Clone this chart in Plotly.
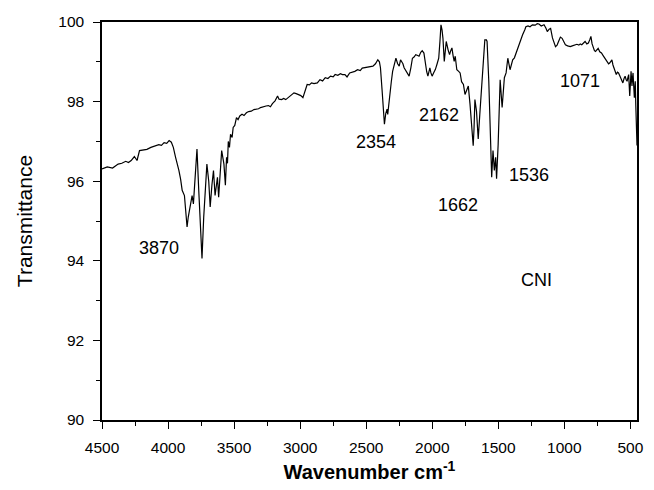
import plotly.graph_objects as go

# FTIR spectrum of CNI: wavenumber (cm^-1) vs. transmittance (%)
wavenumber = [
    4500, 4460, 4420, 4378, 4350, 4320, 4300, 4279, 4255, 4235, 4216, 4190, 4160, 4130,
    4100, 4070, 4050, 4030, 4010, 3992, 3975, 3960, 3943, 3930, 3918, 3905, 3893, 3876,
    3866, 3856, 3847, 3838, 3828, 3818, 3808, 3795, 3781, 3768, 3755, 3743, 3730, 3716,
    3706, 3692, 3681, 3668, 3656, 3644, 3635, 3626, 3617, 3605, 3594, 3577, 3566, 3557,
    3550, 3544, 3535, 3527, 3515, 3507, 3495, 3482, 3470, 3457, 3440, 3425, 3407, 3390,
    3370, 3350, 3333, 3315, 3300, 3280, 3258, 3240, 3225, 3210, 3190, 3171, 3160, 3140,
    3125, 3109, 3090, 3070, 3047, 3030, 3009, 2995, 2979, 2960, 2947, 2930, 2914, 2895,
    2870, 2850, 2830, 2810, 2790, 2770, 2750, 2735, 2715, 2695, 2680, 2661, 2645, 2625,
    2605, 2586, 2565, 2545, 2530, 2511, 2490, 2470, 2449, 2430, 2412, 2400, 2392, 2380,
    2370, 2362, 2352, 2342, 2337, 2325, 2310, 2300, 2285, 2275, 2262, 2250, 2240, 2233,
    2222, 2213, 2195, 2175, 2162, 2150, 2138, 2125, 2110, 2100, 2087, 2076, 2063, 2056,
    2050, 2042, 2033, 2025, 2018, 2010, 2001, 1990, 1976, 1963, 1951, 1942, 1934, 1926,
    1919, 1909, 1894, 1880, 1869, 1860, 1851, 1842, 1834, 1826, 1814, 1800, 1789, 1778,
    1764, 1752, 1739, 1727, 1714, 1702, 1690, 1684, 1677, 1665, 1652, 1640, 1628, 1615,
    1602, 1590, 1585, 1572, 1560, 1550, 1540, 1530, 1520, 1513, 1501, 1486, 1471, 1462,
    1454, 1441, 1428, 1411, 1400, 1391, 1378, 1366, 1353, 1341, 1330, 1316, 1300, 1291,
    1275, 1260, 1242, 1220, 1205, 1192, 1175, 1154, 1140, 1129, 1115, 1104, 1090, 1078,
    1067, 1055, 1042, 1030, 1017, 1005, 992, 975, 955, 940, 925, 905, 890, 880,
    868, 855, 843, 830, 818, 808, 799, 790, 781, 772, 764, 755, 744, 732,
    719, 705, 694, 684, 674, 665, 657, 648, 640, 632, 625, 616, 607, 598,
    590, 582, 575, 566, 557, 548, 540, 532, 525, 519, 513, 509, 505, 500,
    495, 491, 488, 484, 480, 475, 470, 466, 463, 459, 455, 450,
]

transmittance = [
    96.31, 96.36, 96.33, 96.43, 96.45, 96.50, 96.47, 96.52, 96.62, 96.52, 96.77, 96.78, 96.80, 96.85,
    96.88, 96.92, 96.90, 96.97, 96.95, 97.02, 96.98, 96.85, 96.60, 96.45, 96.27, 96.05, 95.77, 95.64,
    95.20, 94.85, 95.10, 95.27, 95.45, 95.64, 95.43, 96.00, 96.81, 95.80, 94.80, 94.06, 95.10, 95.90,
    96.43, 96.00, 95.35, 95.90, 96.27, 95.64, 95.90, 96.10, 95.60, 96.20, 96.77, 96.43, 95.90, 96.60,
    96.45, 97.00, 96.85, 97.18, 97.10, 97.35, 97.40, 97.60, 97.55, 97.64, 97.68, 97.65, 97.72, 97.75,
    97.76, 97.80, 97.81, 97.82, 97.85, 97.86, 97.89, 97.90, 97.87, 97.95, 98.02, 98.14, 98.06, 98.05,
    98.08, 98.05, 98.10, 98.15, 98.22, 98.20, 98.18, 98.15, 98.10, 98.30, 98.43, 98.42, 98.47, 98.45,
    98.47, 98.55, 98.52, 98.60, 98.58, 98.64, 98.62, 98.68, 98.66, 98.70, 98.68, 98.68, 98.62, 98.72,
    98.74, 98.76, 98.80, 98.78, 98.84, 98.85, 98.86, 98.87, 98.89, 98.95, 99.05, 99.00, 98.85, 98.30,
    97.80, 97.43, 97.70, 97.81, 97.68, 98.10, 98.50, 98.76, 99.00, 99.09, 98.95, 98.89, 99.05, 99.01,
    98.95, 98.85, 98.75, 98.64, 98.85, 99.09, 99.12, 99.18, 99.16, 99.14, 99.24, 99.28, 99.22, 99.05,
    98.93, 98.75, 98.64, 98.75, 98.85, 98.72, 98.64, 98.72, 98.81, 98.95, 99.09, 99.50, 99.93, 99.80,
    99.59, 99.01, 99.51, 99.30, 99.18, 99.28, 99.35, 99.15, 99.01, 99.14, 98.80, 98.76, 98.72, 98.50,
    98.43, 98.18, 98.30, 98.39, 97.93, 97.35, 96.89, 97.30, 98.05, 97.76, 97.06, 97.68, 98.26, 98.68,
    99.55, 99.55, 99.51, 98.51, 97.26, 96.10, 96.77, 96.27, 96.60, 96.06, 96.93, 98.55, 97.85, 98.40,
    98.60, 98.72, 99.09, 98.80, 98.95, 99.05, 99.10, 99.22, 99.30, 99.47, 99.55, 99.68, 99.80, 99.88,
    99.90, 99.88, 99.93, 99.92, 99.96, 99.95, 99.90, 99.93, 99.85, 99.76, 99.82, 99.84, 99.60, 99.45,
    99.38, 99.42, 99.51, 99.62, 99.59, 99.50, 99.43, 99.40, 99.38, 99.40, 99.42, 99.44, 99.42, 99.45,
    99.43, 99.48, 99.51, 99.45, 99.47, 99.55, 99.64, 99.45, 99.34, 99.28, 99.26, 99.30, 99.34, 99.25,
    99.22, 99.15, 99.09, 99.05, 99.01, 98.95, 98.97, 99.02, 99.05, 98.92, 98.85, 98.75, 98.68, 98.74,
    98.72, 98.66, 98.60, 98.52, 98.47, 98.58, 98.64, 98.55, 98.51, 98.60, 98.68, 98.40, 98.14, 98.45,
    98.76, 98.55, 98.39, 98.60, 98.72, 98.40, 98.10, 98.35, 98.51, 97.90, 96.97, 96.90,
]

# Peak labels: text and anchor position (wavenumber, transmittance)
peak_labels = ["3870", "2354", "2162", "1662", "1536", "1071", "CNI"]
label_x = [4065, 2429, 1951, 1802, 1264, 883, 1212]
label_y = [94.31, 96.98, 97.66, 95.39, 96.16, 98.53, 93.52]

FONT = "Liberation Sans, Arial, sans-serif"

fig = go.Figure()
fig.add_trace(go.Scatter(
    x=wavenumber, y=transmittance, mode="lines",
    line=dict(color="black", width=1.2), showlegend=False,
))

for text, lx, ly in zip(peak_labels, label_x, label_y):
    fig.add_annotation(x=lx, y=ly, xref="x", yref="y", text=text, showarrow=False,
                       font=dict(family=FONT, size=18, color="black"))

axis_common = dict(
    showgrid=False, zeroline=False, showline=True, linecolor="black", linewidth=1.5,
    mirror=True, ticks="outside", ticklen=7, tickwidth=1.3, tickcolor="black",
    tickfont=dict(family=FONT, size=15.5, color="black"),
)

fig.update_layout(
    width=654, height=490,
    margin=dict(l=102, r=10, t=22, b=67),
    paper_bgcolor="white", plot_bgcolor="white",
    xaxis=dict(
        range=[4500, 450], tick0=500, dtick=500,
        minor=dict(tick0=0, dtick=250, ticks="outside", ticklen=4, tickwidth=1.3, tickcolor="black"),
        ticklabelstandoff=6,
        title=dict(text="<b>Wavenumber cm<sup>-1</sup></b>", standoff=10,
                   font=dict(family=FONT, size=20, color="black")),
        **axis_common,
    ),
    yaxis=dict(
        range=[90, 100], tick0=0, dtick=2,
        minor=dict(tick0=0, dtick=1, ticks="outside", ticklen=4, tickwidth=1.3, tickcolor="black"),
        ticklabelstandoff=6,
        title=dict(text="Transmittance", standoff=20,
                   font=dict(family=FONT, size=21, color="black")),
        **axis_common,
    ),
    # inward ticks along the top and right frame
    xaxis2=dict(
        overlaying="x", anchor="y", side="top", range=[4500, 450], tick0=0, dtick=250,
        ticks="inside", ticklen=3, tickwidth=1.3, tickcolor="black",
        showticklabels=False, showline=False, showgrid=False, zeroline=False,
    ),
    yaxis2=dict(
        overlaying="y", anchor="x", side="right", range=[90, 100], tick0=0, dtick=1,
        ticks="inside", ticklen=3, tickwidth=1.3, tickcolor="black",
        showticklabels=False, showline=False, showgrid=False, zeroline=False,
    ),
)

fig.write_html("out.html")
